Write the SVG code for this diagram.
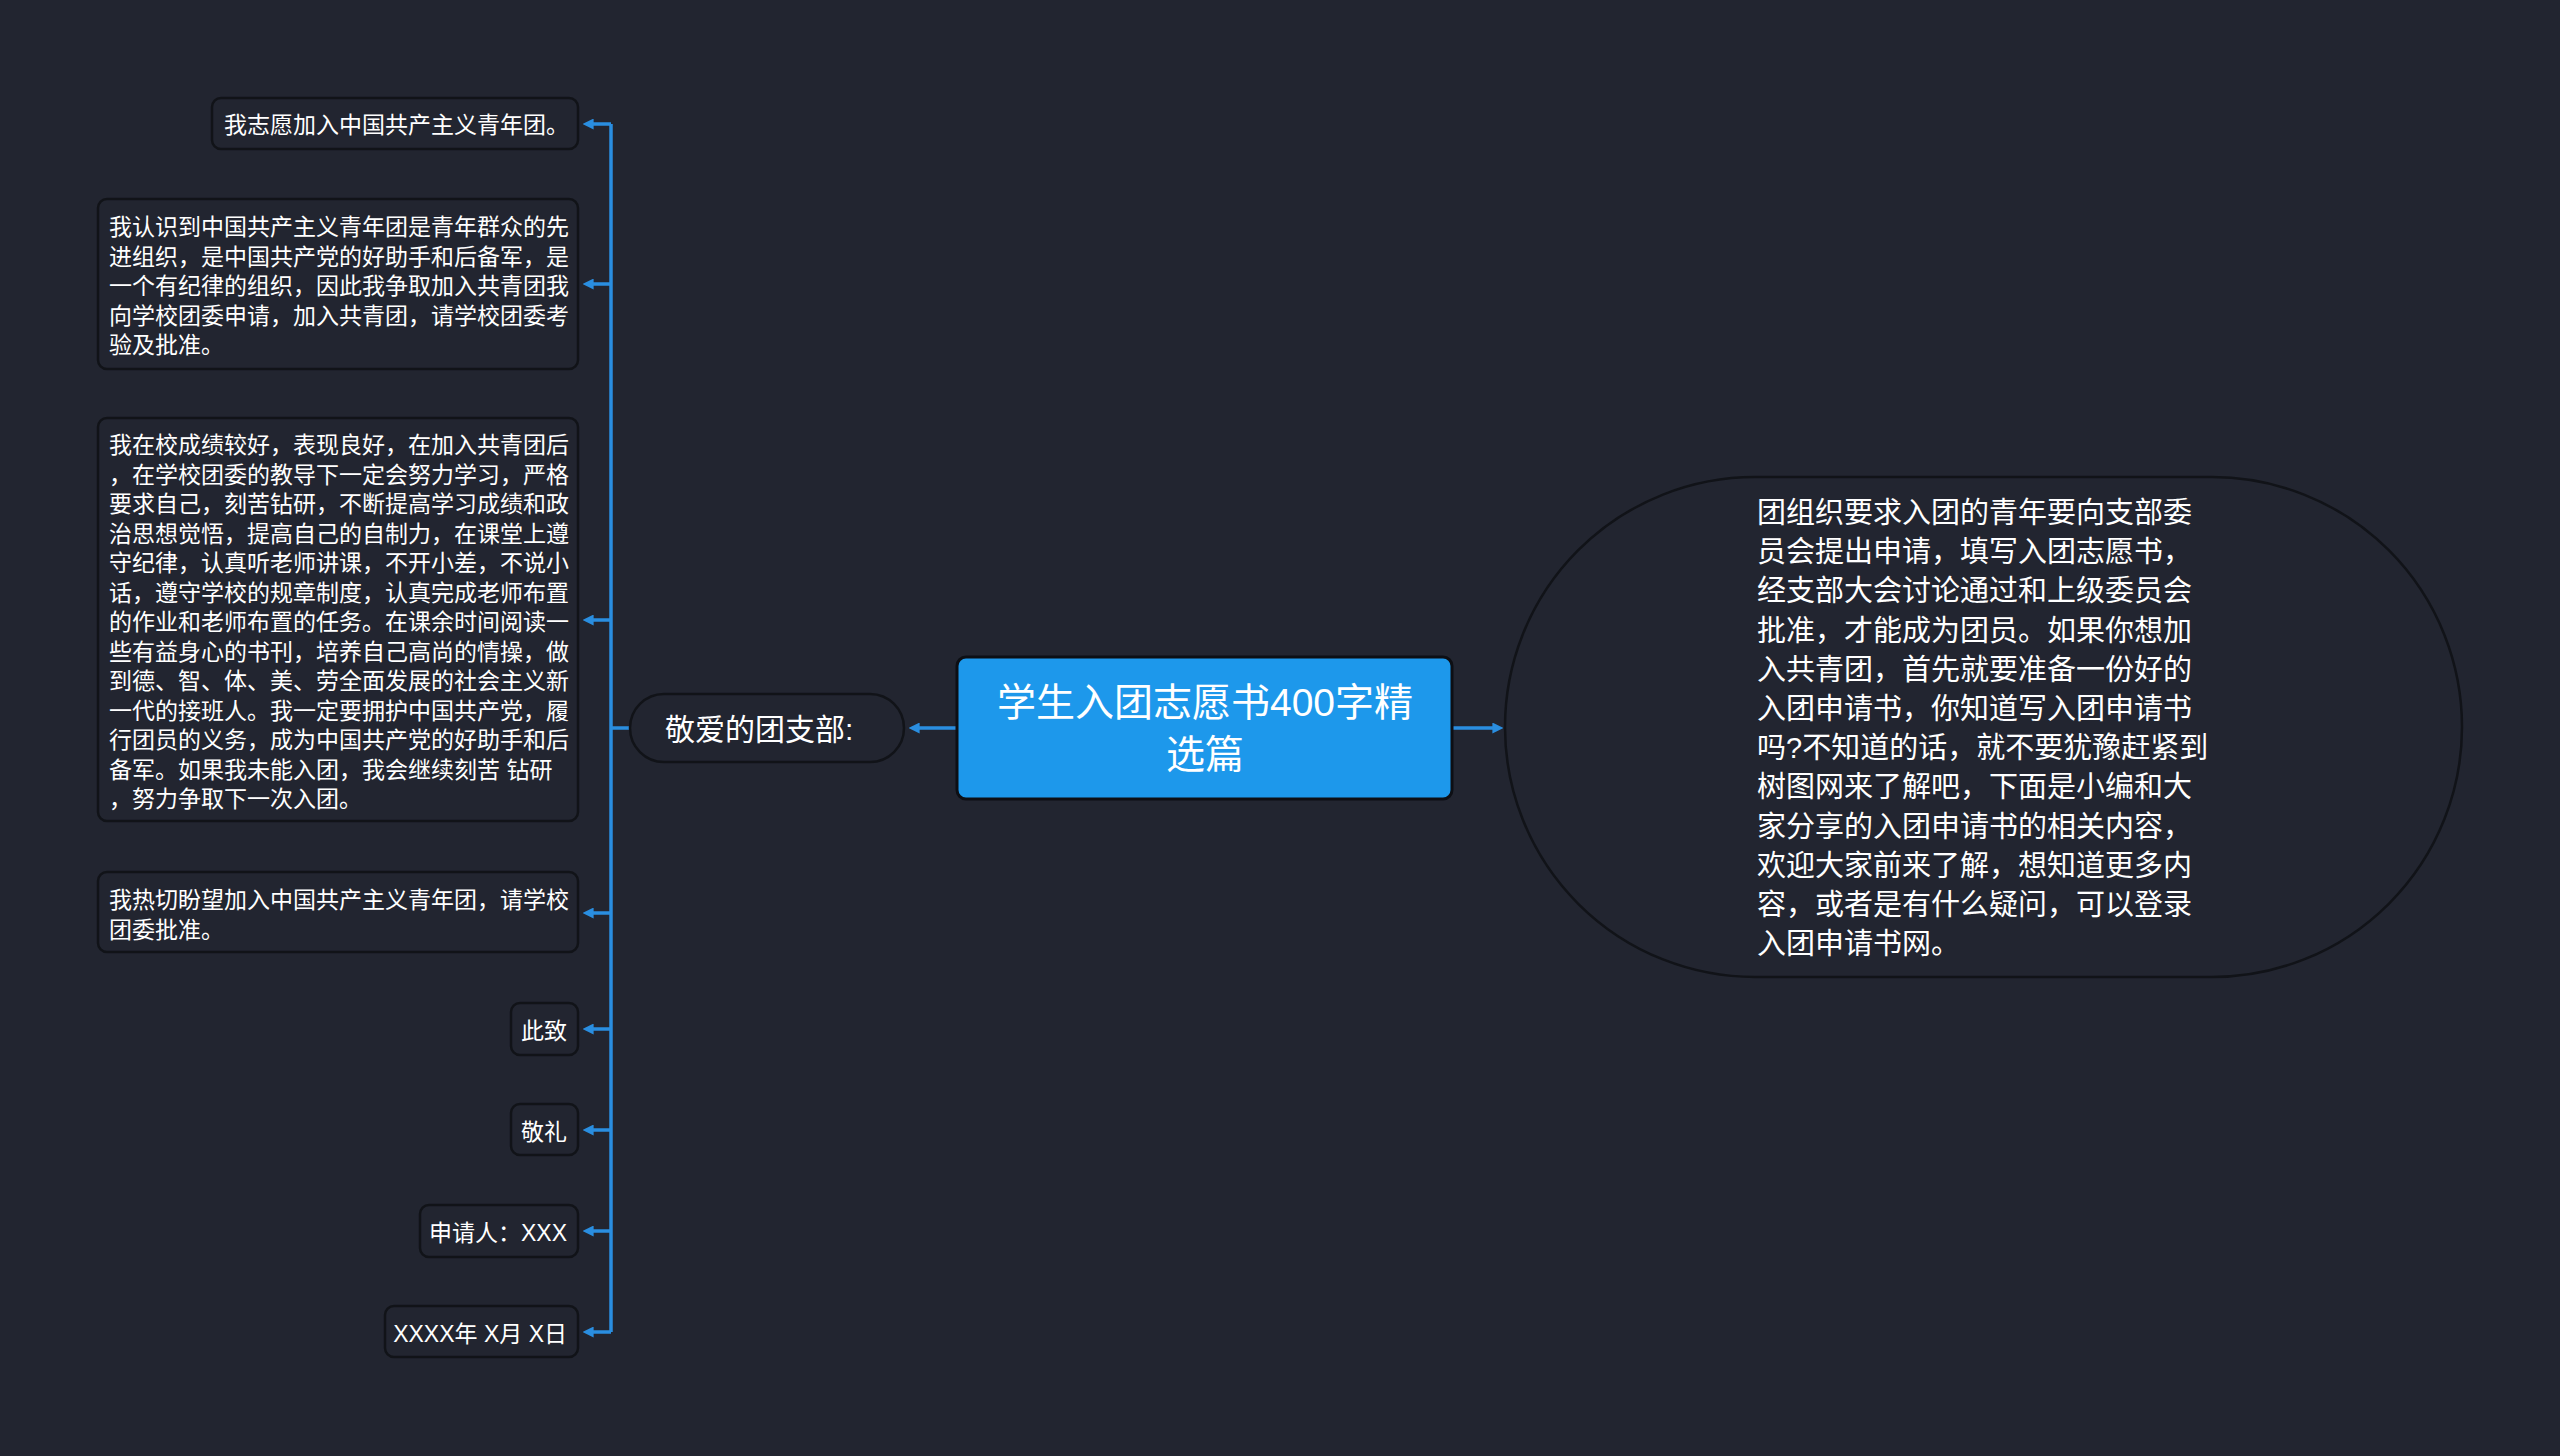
<svg xmlns="http://www.w3.org/2000/svg" width="2560" height="1456" viewBox="0 0 2560 1456">
<defs>
<style>
.bg{fill:#222530}
.box{fill:#222530;stroke:#111318;stroke-width:2.5}
.t{font-family:"Liberation Sans","Noto Sans CJK SC",sans-serif;fill:#ffffff}
.s23{font-size:23px}
.s29{font-size:29px}
.s30{font-size:30px}
.s38{font-size:39px}
.conn{fill:none;stroke:#2a8ee0;stroke-width:3.5}
</style>
<marker id="arr" viewBox="0 0 10 10" markerWidth="11" markerHeight="11" refX="6" refY="5" orient="auto" markerUnits="userSpaceOnUse">
<path d="M0,0 L10,5 L0,10 z" fill="#2a8ee0"/>
</marker>
</defs>
<rect class="bg" x="0" y="0" width="2560" height="1456"/>

<g id="connectors">
<path class="conn" d="M630,728 H611"/>
<path class="conn" d="M611,124 V1332"/>
<path class="conn" d="M611,124 H587" marker-end="url(#arr)"/>
<path class="conn" d="M611,284 H587" marker-end="url(#arr)"/>
<path class="conn" d="M611,620 H587" marker-end="url(#arr)"/>
<path class="conn" d="M611,913 H587" marker-end="url(#arr)"/>
<path class="conn" d="M611,1029 H587" marker-end="url(#arr)"/>
<path class="conn" d="M611,1130 H587" marker-end="url(#arr)"/>
<path class="conn" d="M611,1231 H587" marker-end="url(#arr)"/>
<path class="conn" d="M611,1332 H587" marker-end="url(#arr)"/>
<path class="conn" d="M957,728 H913" marker-end="url(#arr)"/>
<path class="conn" d="M1453,728 H1499" marker-end="url(#arr)"/>
</g>

<g id="root">
<rect x="957" y="657" width="495" height="142" rx="9" fill="#1d98eb" stroke="#0d0f14" stroke-width="3"/>
<text class="t s38" text-anchor="middle" dominant-baseline="central"><tspan x="1205" y="702">学生入团志愿书400字精</tspan><tspan x="1205" y="754">选篇</tspan></text>
</g>

<g id="greeting">
<rect class="box" x="630" y="694" width="274" height="68" rx="34" stroke-width="3"/>
<text class="t s30" x="665" y="729" dominant-baseline="central">敬爱的团支部:</text>
</g>

<g id="summary">
<rect class="box" x="1505" y="477" width="957" height="500" rx="250" stroke-width="3"/>
<text class="t s29" dominant-baseline="central" transform="translate(0,2)">
<tspan x="1757" y="511">团组织要求入团的青年要向支部委</tspan>
<tspan x="1757" y="550">员会提出申请，填写入团志愿书，</tspan>
<tspan x="1757" y="589">经支部大会讨论通过和上级委员会</tspan>
<tspan x="1757" y="629">批准，才能成为团员。如果你想加</tspan>
<tspan x="1757" y="668">入共青团，首先就要准备一份好的</tspan>
<tspan x="1757" y="707">入团申请书，你知道写入团申请书</tspan>
<tspan x="1757" y="746">吗?不知道的话，就不要犹豫赶紧到</tspan>
<tspan x="1757" y="785">树图网来了解吧，下面是小编和大</tspan>
<tspan x="1757" y="825">家分享的入团申请书的相关内容，</tspan>
<tspan x="1757" y="864">欢迎大家前来了解，想知道更多内</tspan>
<tspan x="1757" y="903">容，或者是有什么疑问，可以登录</tspan>
<tspan x="1757" y="942">入团申请书网。</tspan>
</text>
</g>

<g id="n1">
<rect class="box" x="212" y="98" width="366" height="51" rx="9"/>
<text class="t s23" x="224" y="125" dominant-baseline="central">我志愿加入中国共产主义青年团。</text>
</g>

<g id="n2">
<rect class="box" x="98" y="199" width="480" height="170" rx="9"/>
<text class="t s23" dominant-baseline="central" transform="translate(0,2)">
<tspan x="109" y="225">我认识到中国共产主义青年团是青年群众的先</tspan>
<tspan x="109" y="254.5">进组织，是中国共产党的好助手和后备军，是</tspan>
<tspan x="109" y="284">一个有纪律的组织，因此我争取加入共青团我</tspan>
<tspan x="109" y="313.5">向学校团委申请，加入共青团，请学校团委考</tspan>
<tspan x="109" y="343">验及批准。</tspan>
</text>
</g>

<g id="n3">
<rect class="box" x="98" y="418" width="480" height="403" rx="9"/>
<text class="t s23" dominant-baseline="central" transform="translate(0,2)">
<tspan x="109" y="443">我在校成绩较好，表现良好，在加入共青团后</tspan>
<tspan x="109" y="472.5">，在学校团委的教导下一定会努力学习，严格</tspan>
<tspan x="109" y="502">要求自己，刻苦钻研，不断提高学习成绩和政</tspan>
<tspan x="109" y="531.5">治思想觉悟，提高自己的自制力，在课堂上遵</tspan>
<tspan x="109" y="561">守纪律，认真听老师讲课，不开小差，不说小</tspan>
<tspan x="109" y="590.5">话，遵守学校的规章制度，认真完成老师布置</tspan>
<tspan x="109" y="620">的作业和老师布置的任务。在课余时间阅读一</tspan>
<tspan x="109" y="649.5">些有益身心的书刊，培养自己高尚的情操，做</tspan>
<tspan x="109" y="679">到德、智、体、美、劳全面发展的社会主义新</tspan>
<tspan x="109" y="708.5">一代的接班人。我一定要拥护中国共产党，履</tspan>
<tspan x="109" y="738">行团员的义务，成为中国共产党的好助手和后</tspan>
<tspan x="109" y="767.5">备军。如果我未能入团，我会继续刻苦 钻研</tspan>
<tspan x="109" y="797">，努力争取下一次入团。</tspan>
</text>
</g>

<g id="n4">
<rect class="box" x="98" y="872" width="480" height="80" rx="9"/>
<text class="t s23" dominant-baseline="central" transform="translate(0,2)">
<tspan x="109" y="898">我热切盼望加入中国共产主义青年团，请学校</tspan>
<tspan x="109" y="927.5">团委批准。</tspan>
</text>
</g>

<g id="n5">
<rect class="box" x="511" y="1003" width="67" height="52" rx="9"/>
<text class="t s23" x="521" y="1031" dominant-baseline="central">此致</text>
</g>

<g id="n6">
<rect class="box" x="511" y="1104" width="67" height="51" rx="9"/>
<text class="t s23" x="521" y="1132" dominant-baseline="central">敬礼</text>
</g>

<g id="n7">
<rect class="box" x="420" y="1205" width="158" height="52" rx="9"/>
<text class="t s23" x="567" y="1233" text-anchor="end" dominant-baseline="central">申请人：XXX</text>
</g>

<g id="n8">
<rect class="box" x="385" y="1306" width="193" height="51" rx="9"/>
<text class="t s23" x="567" y="1334" text-anchor="end" dominant-baseline="central">XXXX年 X月 X日</text>
</g>
</svg>
